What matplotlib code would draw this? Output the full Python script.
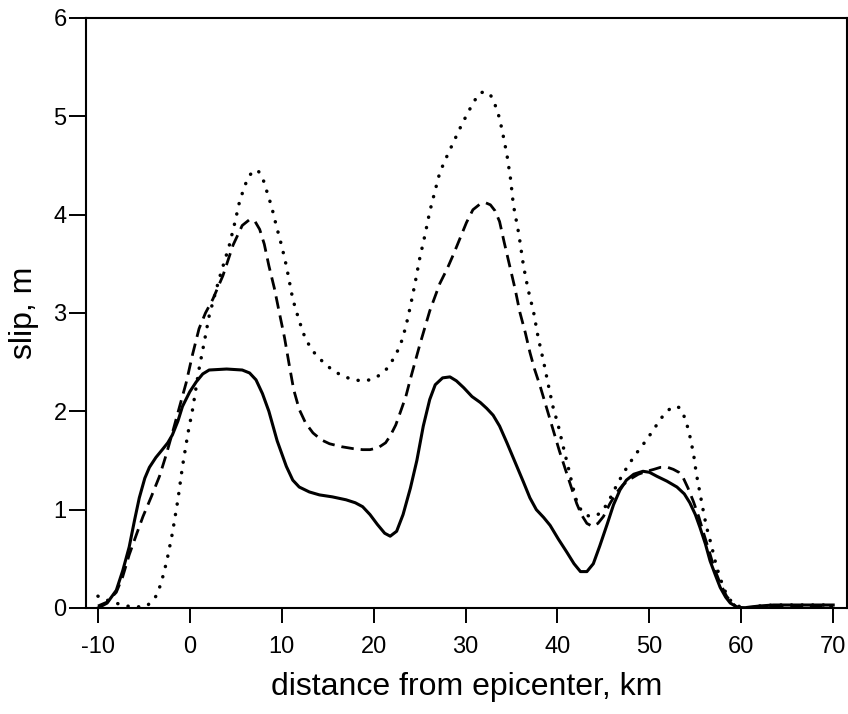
import matplotlib
matplotlib.use('Agg')
import matplotlib.pyplot as plt

plt.rcParams['font.family'] = ['Liberation Sans', 'DejaVu Sans']

# slip profiles (km from epicenter, slip in m)
solid_x = [-10.0, -9.0, -8.0, -7.3, -6.6, -6.0, -5.5, -4.9, -4.4, -3.7, -3.0, -2.4, -1.9, -1.3, -0.8,
           0.0, 0.7, 1.4, 2.1, 4.0, 5.7, 6.5, 7.2, 7.9, 8.6, 9.5, 10.5, 11.2, 11.9, 13.0, 14.1,
           15.5, 17.0, 18.0, 18.8, 19.6, 20.4, 21.2, 21.8, 22.5, 23.2, 24.0, 24.7, 25.4, 26.1,
           26.7, 27.5, 28.3, 29.0, 29.8, 30.7, 31.6, 32.3, 33.0, 33.7, 34.5, 35.4, 36.3, 37.0,
           37.7, 38.5, 39.2, 40.1, 41.0, 41.8, 42.5, 43.2, 43.9, 44.6, 45.4, 46.1, 46.8, 47.5,
           48.3, 49.3, 50.0, 50.8, 51.9, 53.0, 53.8, 54.4, 55.0, 55.5, 56.1, 56.6, 57.2, 57.7,
           58.3, 58.8, 59.5, 60.2, 61.0, 62.0, 63.5, 70.0]
solid_y = [0.0, 0.05, 0.18, 0.38, 0.62, 0.90, 1.12, 1.32, 1.43, 1.53, 1.61, 1.68, 1.76, 1.90, 2.05,
           2.20, 2.30, 2.38, 2.42, 2.43, 2.42, 2.39, 2.32, 2.18, 2.00, 1.70, 1.44, 1.30, 1.23, 1.18, 1.15,
           1.13, 1.10, 1.07, 1.03, 0.95, 0.85, 0.76, 0.73, 0.78, 0.95, 1.22, 1.50, 1.85, 2.12,
           2.27, 2.34, 2.35, 2.31, 2.24, 2.15, 2.09, 2.03, 1.96, 1.85, 1.68, 1.48, 1.28, 1.12,
           1.00, 0.92, 0.84, 0.70, 0.57, 0.45, 0.37, 0.37, 0.45, 0.63, 0.85, 1.05, 1.20, 1.30,
           1.36, 1.39, 1.38, 1.34, 1.29, 1.23, 1.16, 1.07, 0.95, 0.82, 0.65, 0.48, 0.33, 0.21,
           0.11, 0.05, 0.01, 0.0, 0.01, 0.02, 0.03, 0.03]

dashed_x = [-10.0, -9.0, -8.0, -7.3, -6.6, -5.8, -5.1, -4.2, -3.3, -2.6, -1.9, -1.2, -0.4, 0.3, 1.0,
            1.7, 2.5, 3.6, 4.7, 5.7, 6.5, 7.1, 7.6, 8.1, 8.6, 9.2, 9.7, 10.3, 10.8, 11.3, 11.9,
            12.6, 13.4, 14.3, 15.2, 16.5, 17.8, 18.8, 19.6, 20.5, 21.3, 21.8, 22.4, 22.9, 23.5,
            24.0, 25.0, 26.1, 27.2, 28.0, 28.7, 29.4, 30.1, 30.8, 31.6, 32.2, 32.7, 33.2, 33.7,
            34.2, 34.8, 35.4, 35.9, 36.5, 37.0, 37.5, 38.1, 38.8, 39.5, 40.2, 41.0, 41.6, 42.1,
            42.6, 43.2, 43.8, 44.4, 45.0, 45.7, 46.4, 47.1, 47.9, 48.8, 49.7, 50.5, 51.2, 52.0,
            52.6, 53.2, 53.7, 54.2, 54.8, 55.4, 55.9, 56.5, 57.0, 57.7, 58.4, 59.0, 59.5, 60.5,
            61.5, 63.0, 70.0]
dashed_y = [0.02, 0.06, 0.16, 0.32, 0.54, 0.75, 0.93, 1.13, 1.34, 1.55, 1.78, 2.02, 2.29, 2.58, 2.84,
            3.00, 3.14, 3.38, 3.69, 3.89, 3.95, 3.93, 3.85, 3.70, 3.48, 3.25, 3.02, 2.75, 2.48, 2.22, 2.02,
            1.88, 1.78, 1.71, 1.67, 1.64, 1.62, 1.61, 1.61, 1.63, 1.68, 1.75, 1.86, 1.99, 2.15,
            2.33, 2.67, 3.02, 3.30, 3.45, 3.60, 3.76, 3.92, 4.05, 4.11, 4.12, 4.10, 4.04, 3.93,
            3.72, 3.48, 3.24, 3.01, 2.80, 2.60, 2.43, 2.26, 2.04, 1.82, 1.60, 1.37, 1.20, 1.06,
            0.95, 0.86, 0.83, 0.86, 0.93, 1.06, 1.17, 1.25, 1.31, 1.36, 1.39, 1.41, 1.43, 1.43,
            1.41, 1.38, 1.32, 1.22, 1.08, 0.92, 0.76, 0.58, 0.42, 0.25, 0.12, 0.05, 0.01, 0.0,
            0.01, 0.02, 0.02]

dotted_x = [-10.0, -9.3, -8.7, -7.7, -6.9, -5.8, -4.7, -4.2, -3.6, -3.1, -2.5, -1.9, -1.3, -0.8, -0.2,
            0.3, 1.0, 1.6, 2.1, 3.2, 4.3, 4.9, 5.4, 6.0, 6.5, 7.0, 7.4, 7.9, 8.3, 8.9, 9.4,
            10.0, 10.5, 11.2, 11.9, 12.6, 13.5, 14.5, 15.5, 16.6, 17.8, 18.8, 19.6, 20.5, 21.4,
            22.2, 22.9, 23.5, 24.0, 24.5, 25.0, 25.6, 26.1, 26.7, 27.2, 28.0, 28.7, 29.4, 30.1,
            30.9, 31.6, 32.2, 32.7, 33.2, 33.7, 34.1, 34.5, 34.9, 35.2, 35.8, 36.3, 36.8, 37.4,
            37.9, 38.5, 39.0, 39.5, 40.1, 40.6, 41.2, 41.7, 42.1, 42.6, 43.2, 43.8, 44.4, 45.0,
            45.7, 46.4, 47.1, 47.9, 48.8, 49.7, 50.5, 51.2, 51.9, 52.6, 53.2, 53.7, 54.1, 54.4,
            54.8, 55.1, 55.5, 55.9, 56.2, 56.6, 57.0, 57.3, 57.7, 58.0, 58.4, 58.8, 59.3, 59.9,
            60.5, 61.2, 62.0, 63.5, 70.0]
dotted_y = [0.12, 0.09, 0.07, 0.04, 0.02, 0.01, 0.02, 0.06, 0.13, 0.26, 0.48, 0.76, 1.10, 1.44, 1.78,
            2.02, 2.43, 2.72, 2.97, 3.35, 3.69, 3.92, 4.13, 4.30, 4.40, 4.45, 4.45, 4.38, 4.26, 4.08, 3.89,
            3.68, 3.48, 3.14, 2.92, 2.73, 2.60, 2.50, 2.42, 2.36, 2.32, 2.31, 2.32, 2.36, 2.43,
            2.54, 2.67, 2.86, 3.07, 3.30, 3.55, 3.80, 4.03, 4.25, 4.43, 4.60, 4.74, 4.88, 5.01,
            5.15, 5.24, 5.25, 5.22, 5.12, 4.98, 4.80, 4.61, 4.36, 4.10, 3.80, 3.48, 3.24, 3.01,
            2.75, 2.50, 2.27, 2.05, 1.85, 1.65, 1.42, 1.22, 1.08, 0.99, 0.94, 0.93, 0.95, 1.00,
            1.11, 1.24, 1.36, 1.48, 1.60, 1.71, 1.82, 1.92, 2.00, 2.05, 2.04, 1.97, 1.86, 1.75,
            1.57, 1.37, 1.17, 0.97, 0.83, 0.69, 0.54, 0.42, 0.31, 0.22, 0.14, 0.08, 0.04, 0.01,
            0.0, 0.0, 0.02, 0.03, 0.03]

xticks = [-10, 0, 10, 20, 30, 40, 50, 60, 70]
yticks = [0, 1, 2, 3, 4, 5, 6]

fig = plt.figure(figsize=(8.48, 7.14), dpi=100)
ax = fig.add_axes([0.1014, 0.1485, 0.8974, 0.8263])

ax.plot(solid_x, solid_y, color='black', linewidth=2.2, linestyle='-')
ax.plot(dashed_x, dashed_y, color='black', linewidth=2.0, linestyle=(0, (4.5, 2.5)))
ax.plot(dotted_x, dotted_y, color='black', linewidth=2.5, linestyle=(0, (0.05, 3.0)),
        dash_capstyle='round')

ax.set_xlim(-11.3, 71.5)
ax.set_ylim(0, 6)
ax.set_xticks(xticks)
ax.set_yticks(yticks)
ax.set_xticklabels([str(v) for v in xticks], fontsize=17)
ax.set_yticklabels([str(v) for v in yticks], fontsize=17)
ax.tick_params(axis='x', direction='out', length=11, width=1.4, pad=9)
ax.tick_params(axis='y', direction='out', length=12, width=1.4, pad=2)
for sp in ax.spines.values():
    sp.set_linewidth(1.5)

ax.set_xlabel('distance from epicenter, km', fontsize=23, labelpad=10)
ax.set_ylabel('slip, m', fontsize=23, labelpad=10)

fig.savefig('out.png', dpi=100)
